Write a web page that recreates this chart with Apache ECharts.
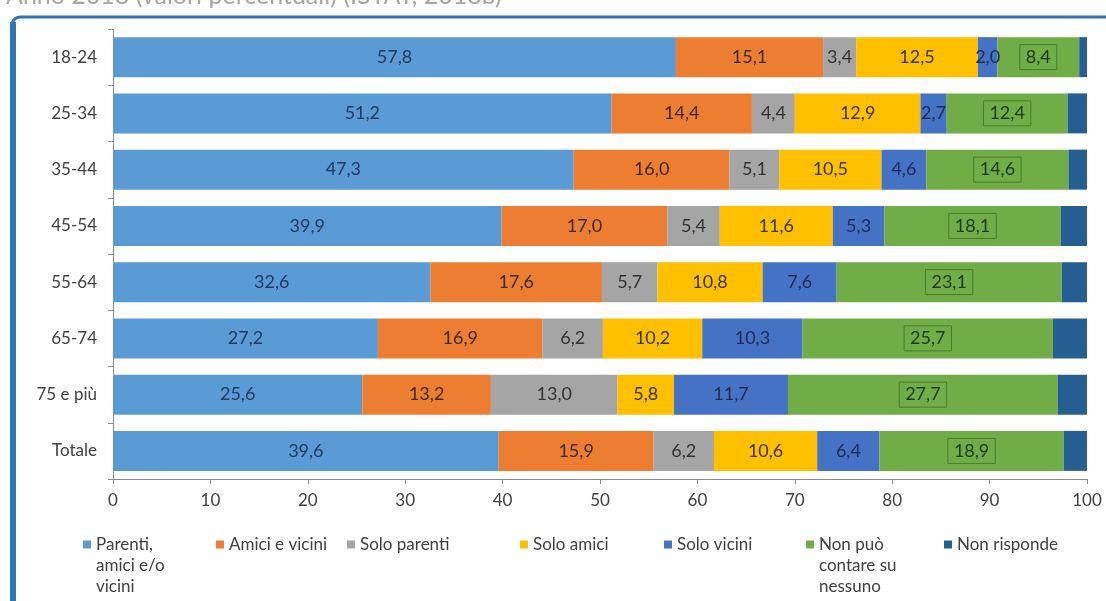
<!DOCTYPE html>
<html>
<head>
<meta charset="utf-8">
<script src="https://cdn.jsdelivr.net/npm/echarts@6/dist/echarts.min.js"></script>
<style>
html,body{margin:0;padding:0;background:#fff;}
#chart{width:1106px;height:601px;}
</style>
</head>
<body>
<div id="chart"></div>
<script>
var categories = ['18-24','25-34','35-44','45-54','55-64','65-74','75 e più','Totale'];
var seriesNames = ['Parenti, amici e/o vicini','Amici e vicini','Solo parenti','Solo amici','Solo vicini','Non può contare su nessuno','Non risponde'];
var legendLabels = ['Parenti,\namici e/o\nvicini','Amici e vicini','Solo parenti','Solo amici','Solo vicini','Non può\ncontare su\nnessuno','Non risponde'];
var parentiAmiciVicini = [57.8,51.2,47.3,39.9,32.6,27.2,25.6,39.6];
var amiciEVicini = [15.1,14.4,16.0,17.0,17.6,16.9,13.2,15.9];
var soloParenti = [3.4,4.4,5.1,5.4,5.7,6.2,13.0,6.2];
var soloAmici = [12.5,12.9,10.5,11.6,10.8,10.2,5.8,10.6];
var soloVicini = [2.0,2.7,4.6,5.3,7.6,10.3,11.7,6.4];
var nonPuoContare = [8.4,12.4,14.6,18.1,23.1,25.7,27.7,18.9];
var nonRisponde = [0.8,2.0,1.9,2.7,2.6,3.5,3.0,2.4];
var xTicks = [0,10,20,30,40,50,60,70,80,90,100];

var values = [parentiAmiciVicini, amiciEVicini, soloParenti, soloAmici, soloVicini, nonPuoContare, nonRisponde];
var colors = ['#5b9bd5','#ed7d31','#a5a5a5','#ffc000','#4472c4','#70ad47','#255e91'];
var labelColors = ['#1f3a60','#3a2a1a','#333333','#3a3320','#1f2a50','#1e3a12','#333'];
var legendWidths = [120,118,160,131,129,125,120];
var FONT = 'Lato';

var chart = echarts.init(document.getElementById('chart'), null, {renderer:'canvas'});

function fmt(v){ return v.toFixed(1).replace('.', ','); }

var series = values.map(function(arr, i){
  var s = {
    name: seriesNames[i],
    type: 'bar',
    stack: 'total',
    barWidth: 40,
    data: arr,
    itemStyle: {color: colors[i]},
    label: {
      show: i < 6,
      position: 'inside',
      fontFamily: FONT,
      fontSize: 18,
      color: labelColors[i],
      formatter: function(p){ return fmt(p.value); }
    }
  };
  if (i === 5) {
    s.label.borderColor = '#4a7a2c';
    s.label.borderWidth = 1;
    s.label.padding = [4, 6, 3, 6];
  }
  return s;
});

var LH = 21;
var legendData = seriesNames.map(function(n, i){
  return {name: n, icon: 'rect', textStyle: {width: legendWidths[i], overflow: 'none', lineHeight: LH}};
});

var option = {
  animation: false,
  backgroundColor: '#ffffff',
  grid: {left: 113, right: 19, top: 29, bottom: 122, containLabel: false},
  xAxis: {
    type: 'value', min: 0, max: 100, interval: 10,
    axisLine: {show: true, lineStyle: {color: '#8c8c8c'}},
    axisTick: {show: true, length: 5, lineStyle: {color: '#8c8c8c'}},
    splitLine: {show: false},
    axisLabel: {fontFamily: FONT, fontSize: 17, color: '#404040', margin: 13,
      formatter: function(v){ return xTicks.indexOf(v) >= 0 ? String(v) : ''; }}
  },
  yAxis: {
    type: 'category', data: categories, inverse: true,
    axisLine: {show: true, lineStyle: {color: '#8c8c8c'}},
    axisTick: {show: true, length: 5, lineStyle: {color: '#8c8c8c'}},
    axisLabel: {fontFamily: FONT, fontSize: 17, color: '#404040', margin: 16}
  },
  legend: {
    data: legendData,
    left: 83, top: 492,
    orient: 'horizontal',
    itemGap: 0,
    itemWidth: 8, itemHeight: 8,
    padding: 0,
    selectedMode: false,
    textStyle: {fontFamily: FONT, fontSize: 17, color: '#404040'},
    formatter: function(name){
      var t = legendLabels[seriesNames.indexOf(name)];
      var n = t.split('\n').length;
      var pre = '';
      for (var k = 1; k < n; k++) pre += ' \n';
      return pre + t;
    }
  },
  graphic: [
    {type: 'text', left: 6, top: -17, silent: true,
      style: {text: 'Anno 2018 (valori percentuali) (ISTAT, 2018b)', fontFamily: FONT, fontSize: 25, fill: '#a6a6a6'}},
    {type: 'rect', silent: true, z: 100,
      shape: {x: 12, y: 17, width: 1120, height: 640, r: 8},
      style: {fill: 'none', stroke: '#2f74b5', lineWidth: 3}},
    {type: 'rect', silent: true, z: 100,
      shape: {x: 10, y: 22, width: 6, height: 600},
      style: {fill: '#2f74b5'}}
  ],
  series: series
};
chart.setOption(option);
</script>
</body>
</html>
